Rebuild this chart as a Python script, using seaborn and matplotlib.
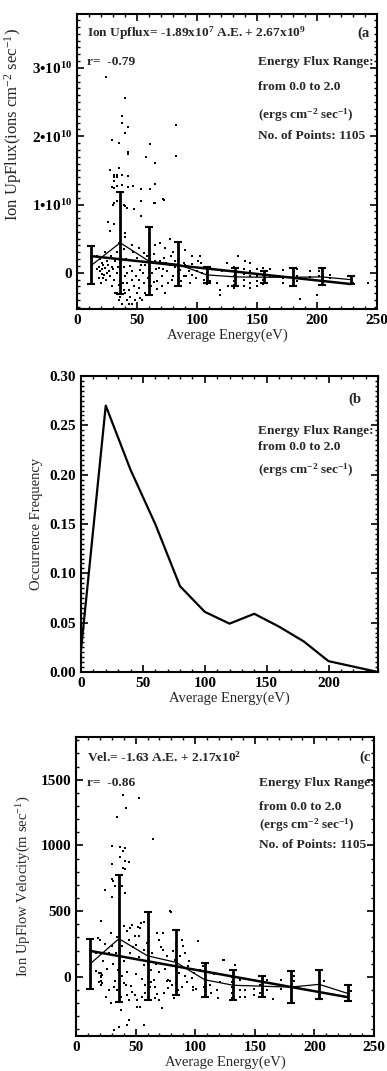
import matplotlib
matplotlib.use("Agg")
import matplotlib.pyplot as plt
import seaborn as sns
import numpy as np
from matplotlib.ticker import MultipleLocator

# ---------------- data ----------------
# (a) ion upflux, values in units of 1e10 ions cm^-2 s^-1
bin_energy = [12, 36, 60, 84, 108, 132, 156, 180, 204, 228]
flux_mean = [0.11, 0.44, 0.17, 0.125, -0.03, -0.06, -0.065, -0.065, -0.06, -0.10]
flux_err = [0.28, 0.75, 0.50, 0.325, 0.12, 0.13, 0.09, 0.13, 0.125, 0.06]
flux_slope = -1.89e7
flux_intercept = 2.67e9

flux_pts_energy = [
    24.4, 39.7, 37.2, 37.2, 42.2, 39.7, 82.8, 29.2, 35.0, 60.6, 42.2, 42.2, 57.2, 82.8,
    64.7, 35.0, 27.2, 31.1, 33.3, 37.2, 42.2, 31.0, 33.3, 31.1, 29.0, 31.1, 33.3, 37.2,
    42.2, 47.0, 53.5, 60.5, 64.7, 72.0, 53.0, 64.7, 31.1, 33.3, 39.7,
    30.0, 33.3, 38.9, 41.7, 47.2, 63.9, 72.8, 25.6, 27.8, 30.6, 39.7, 40.3, 53.6, 34.7,
    45.8, 51.4, 55.6, 59.7, 65.3, 69.4, 73.6, 77.8, 80.0, 90.3, 95.8, 102.8,
    16.7, 18.0, 19.4, 20.8, 22.2, 23.6, 25.0, 26.4, 27.8, 29.2, 30.6, 31.9, 33.3, 34.7,
    38.9, 40.3, 41.7, 43.1, 44.4, 45.8, 47.2, 48.6, 50.0, 51.4, 52.8, 54.2, 55.6, 56.9,
    62.5, 63.9, 65.3, 66.7, 68.1, 70.8, 72.2, 73.6, 75.0, 77.8, 79.2, 81.9, 86.1, 88.9,
    90.3, 93.1, 95.8, 97.2, 100.0, 103.3, 105.6, 109.7, 119.4, 119.4,
    36.1, 37.5, 41.7, 45.8, 48.6, 52.8, 33.3, 38.9,
    21.0, 21.0, 21.5, 22.0, 36.0, 36.0, 36.5, 37.0, 60.0, 60.0, 60.5, 84.0, 84.0, 84.5,
    108.0, 108.0, 108.0, 108.5, 108.5,
    124.7, 134.4, 140.0, 144.2,
    131, 131, 131, 131, 131, 131, 139, 139, 139, 139, 144, 144, 144, 144,
    150, 150, 150, 150, 155, 155, 155, 155, 161, 161, 172, 172, 172, 183, 183, 183,
    194, 194, 202, 202, 211, 211, 230, 230, 186, 200, 242.6, 126,
    17, 18, 19, 20, 23, 24, 25, 26, 28, 29, 30, 32, 33, 34, 35, 36, 38, 39, 40, 41,
    42, 43, 44, 46, 47, 49, 50, 52, 53, 55, 57, 58, 59, 61, 62, 64, 66, 67, 69, 71,
    72, 74, 76, 78, 80, 82, 85, 87, 89, 91, 92, 94, 96, 99, 101, 104, 111, 114, 117, 121,
]
flux_pts_value = [
    2.87, 2.56, 2.29, 2.20, 2.14, 2.05, 2.16, 1.94, 1.90, 1.88, 1.77, 1.74, 1.70, 1.71,
    1.61, 1.54, 1.50, 1.43, 1.43, 1.43, 1.42, 1.40, 1.41, 1.34, 1.26, 1.24, 1.27, 1.28,
    1.25, 1.27, 1.22, 1.22, 1.30, 1.08, 1.05, 1.02, 1.02, 1.05, 0.98,
    1.00, 1.05, 1.00, 0.95, 0.93, 1.02, 1.06, 0.75, 0.61, 0.71, 0.58, 0.53, 0.83, 0.44,
    0.41, 0.36, 0.29, 0.34, 0.41, 0.44, 0.36, 0.49, 0.31, 0.34, 0.24, 0.24,
    0.24, 0.09, 0.02, 0.14, -0.03, 0.07, 0.18, 0.02, -0.05, 0.09, -0.10, 0.17, 0.00, -0.18,
    0.09, -0.05, -0.15, -0.25, -0.35, 0.02, -0.20, 0.17, -0.30, -0.10, 0.04, -0.40, -0.15, 0.12,
    0.00, -0.13, 0.17, -0.23, 0.07, -0.05, 0.22, -0.30, 0.02, 0.12, -0.10, 0.17, 0.04, -0.05,
    0.12, 0.02, -0.03, 0.09, 0.02, 0.14, -0.10, 0.07, -0.25, -0.32,
    -0.35, -0.45, -0.40, -0.45, -0.40, -0.37, -0.30, -0.25,
    0.05, -0.02, -0.08, 0.11, 0.06, -0.12, 0.20, -0.28, 0.05, -0.20, 0.26, 0.02, -0.12, 0.18,
    0.05, -0.05, -0.12, 0.00, -0.16,
    0.14, 0.24, 0.17, 0.15,
    0.09, 0.02, -0.05, -0.12, -0.18, -0.22, 0.05, -0.02, -0.10, -0.20, 0.03, -0.05, -0.15, -0.22,
    0.06, -0.04, -0.12, -0.20, 0.07, -0.03, -0.10, -0.17, 0.05, -0.05, 0.04, -0.08, -0.15, 0.06, -0.05, -0.12,
    0.02, -0.06, 0.03, -0.04, -0.03, -0.08, -0.05, -0.15, -0.39, -0.32, -0.15, -0.20,
    0.05, -0.08, 0.20, -0.15, 0.30, -0.10, 0.00, 0.12, 0.25, -0.20, 0.05, -0.30, 0.30, 0.08, -0.40, 0.15, -0.15, 0.35, -0.30, 0.20,
    0.00, -0.45, 0.10, -0.10, 0.30, -0.05, 0.22, -0.22, 0.12, 0.00, -0.30, 0.25, -0.08, 0.10, -0.20, 0.28, 0.05, -0.12, 0.18, -0.20,
    0.05, 0.15, -0.15, 0.25, -0.05, 0.08, 0.20, -0.12, 0.15, -0.05, 0.10, -0.15, 0.13, -0.08, 0.18, 0.00, -0.12, 0.05, -0.15, 0.02,
]

# (b) occurrence frequency
occ_energy = [0, 20, 40, 60, 80, 100, 120, 140, 160, 180, 200, 220, 240]
occ_freq = [0.022, 0.270, 0.205, 0.150, 0.087, 0.061, 0.049, 0.059, 0.046, 0.031, 0.011, 0.0055, 0.0]

# (c) ion upflow velocity (m/s)
vel_mean = [100, 290, 160, 110, -22, -64, -71, -78, -57, -126]
vel_err = [191, 483, 334, 250, 130, 115, 79, 121, 108, 61]
vel_slope = -1.63
vel_intercept = 2.17e2

vel_pts_energy = [
    39.6, 53.2, 42.1, 34.6, 64.3, 30.5, 36.8, 41.5, 39.6, 36.8, 41.5, 44.3, 30.5, 39.6,
    41.5, 30.5, 31.0, 24.4, 32.4, 38.8, 41.5, 30.5, 80.0, 57.0, 52.0, 45.0,
    18.6, 19.9, 20.8, 29.1, 30.5, 33.2, 38.8, 40.2, 42.9, 44.3, 47.1, 49.3, 50.7, 52.6,
    54.0, 54.8, 56.8, 59.6, 60.9, 63.2, 65.1, 66.5, 67.9, 69.3, 72.6, 73.4, 76.2, 77.6,
    78.9, 83.1, 89.2, 90.0, 91.4, 94.2, 97.0, 98.3, 102.5, 106.6, 108.0, 113.6, 119.1, 123.3,
    16.6, 19.4, 20.8, 22.2, 27.7, 31.9, 34.6, 37.4, 38.8, 40.2, 41.6, 42.9, 44.3, 47.1,
    49.9, 51.2, 54.0, 55.4, 58.2, 62.3, 66.5, 69.3, 72.0, 76.2, 77.6, 80.3, 85.9, 88.6,
    91.4, 98.3, 56.8, 44.3, 42.9, 36.0, 31.9,
    21, 21, 21, 21, 22, 22,
    108, 108, 108, 108, 108, 108, 108, 107,
    84, 84, 84, 84, 84, 60, 60, 60, 60, 60,
    131, 131, 131, 131, 131, 131, 124, 133.5, 138, 138, 138, 142, 142, 149, 149, 149,
    154, 154, 154, 160, 160, 165, 172, 172, 183, 183, 193, 208, 229, 230.3,
    17, 19, 23, 24, 25, 26, 28, 29, 31, 33, 34, 35, 37, 38, 40, 43, 45, 46, 48, 50,
    51, 53, 55, 57, 58, 61, 63, 64, 67, 68, 70, 71, 74, 75, 79, 81, 82, 86, 87, 93,
    95, 99, 101, 104, 112, 116, 118, 121,
]
vel_pts_value = [
    1382, 1364, 1283, 1216, 1051, 995, 990, 982, 957, 914, 885, 873, 855, 830,
    822, 745, 728, 664, 690, 695, 639, 608, 490, 415, 380, 370,
    295, 282, 422, 333, 231, 181, 231, 384, 346, 282, 397, 313, 244, 308,
    372, 410, 206, 257, 130, 53, -23, -74, 333, 282, 333, 206, 155, -23,
    499, 130, 282, 231, 181, 79, -10, -74, 270, 79, -23, -125, -163, 130,
    41, 28, 3, -48, -99, -74, -99, -150, 3, -48, -61, -137, -176, -112,
    -137, -176, -226, -150, -61, -74, -163, -176, -239, -35, -86, -61, -99, -74,
    3, -99, -366, -328, -366, -379, -405,
    30, 0, -30, -60, 15, -45,
    100, 60, 20, -20, -60, -100, -140, -80,
    250, 150, 50, -50, -110, 200, 100, 0, -100, -150,
    50, 0, -40, -80, -120, -160, 130, 92, -23, -100, -150, -99, -150, -23, -90, -140,
    3, -60, -120, -23, -100, -170, -23, -90, 3, -35, -99, -35, -99, -104,
    180, -40, 120, 250, -150, 60, 180, -200, 100, -30, 300, 50, 200, -250, 120, 40, 180, -70, 230, 20,
    -230, 150, -20, 90, -120, 300, -40, 180, 100, -130, 40, 230, -120, 60, -30, 200, -160, 30, 160, -40,
    120, 30, -90, 50, -60, 20, -100, -40,
]

# ---------------- style ----------------
sns.set_theme(style="ticks")
plt.rcParams.update({
    "font.family": ["Liberation Serif", "DejaVu Serif"],
    "mathtext.fontset": "custom",
    "mathtext.rm": "Liberation Serif",
    "mathtext.it": "Liberation Serif:italic",
    "mathtext.bf": "Liberation Serif:bold",
    "mathtext.default": "regular",
    "axes.linewidth": 1.5,
    "axes.edgecolor": "black",
    "xtick.direction": "in",
    "ytick.direction": "in",
    "xtick.top": True,
    "ytick.right": True,
    "xtick.major.size": 5,
    "ytick.major.size": 5,
    "xtick.minor.size": 2.5,
    "ytick.minor.size": 2.5,
    "xtick.major.width": 1.2,
    "ytick.major.width": 1.2,
    "xtick.minor.width": 1.0,
    "ytick.minor.width": 1.0,
    "xtick.color": "black",
    "ytick.color": "black",
})

W, H = 387, 1071
fig = plt.figure(figsize=(W / 100, H / 100), dpi=100)


def add_axes(left, top, right, bottom):
    return fig.add_axes([left / W, 1 - bottom / H, (right - left) / W, (bottom - top) / H])


ax_a = add_axes(77, 14, 377, 309)
ax_b = add_axes(81, 376, 378, 672)
ax_c = add_axes(76, 737, 374, 1036)

TICK_FS = 11
LABEL_FS = 10.5
ANN_FS = 9.6


def style_axis(ax, xticks, xlabels, yticks, ylabels, xminor, yminor, ylabel, ylabel_x,
               ylabel_y=0.5, ylabel_fs=LABEL_FS):
    ax.set_xticks(xticks, xlabels, fontsize=TICK_FS, fontweight="bold")
    ax.set_yticks(yticks, ylabels, fontsize=TICK_FS, fontweight="bold")
    ax.xaxis.set_minor_locator(MultipleLocator(xminor))
    ax.yaxis.set_minor_locator(MultipleLocator(yminor))
    ax.tick_params(which="both", top=True, right=True, direction="in", pad=3.5)
    ax.set_xlabel("Average Energy(eV)", fontsize=LABEL_FS, labelpad=1)
    ax.set_ylabel(ylabel, fontsize=ylabel_fs)
    ax.yaxis.set_label_coords(ylabel_x, ylabel_y)
    for s in ax.spines.values():
        s.set_visible(True)
        s.set_linewidth(1.5)
        s.set_color("black")


def panel_with_fit(ax, pts_x, pts_y, mean, err, slope, intercept, scale):
    sns.scatterplot(x=pts_x, y=pts_y, ax=ax, color="black", marker="s", s=1.3,
                    linewidth=0, legend=False, zorder=2)
    sns.lineplot(x=bin_energy, y=mean, ax=ax, color="black", linewidth=0.9,
                 estimator=None, sort=False, zorder=3)
    ax.errorbar(bin_energy, mean, yerr=err, fmt="none", ecolor="black",
                elinewidth=2.0, capsize=3, capthick=1.5, zorder=4)
    fx = np.array([bin_energy[0], bin_energy[-1]], dtype=float)
    fy = (slope * fx + intercept) / scale
    sns.lineplot(x=fx, y=fy, ax=ax, color="black", linewidth=1.8,
                 estimator=None, sort=False, zorder=5)


# ---------------- panel (a) ----------------
panel_with_fit(ax_a, flux_pts_energy, flux_pts_value, flux_mean, flux_err,
               flux_slope, flux_intercept, 1e10)
ax_a.set_xlim(0, 250)
ax_a.set_ylim(-0.53, 3.79)
style_axis(ax_a, [0, 50, 100, 150, 200, 250], ["0", "50", "100", "150", "200", "250"],
           [0, 1, 2, 3], ["0", "1•10$^{10}$", "2•10$^{10}$", "3•10$^{10}$"],
           10, 0.1, "Ion UpFlux(ions cm$^{-2}$ sec$^{-1}$)", -0.175,
           ylabel_y=0.625, ylabel_fs=12)

ta = ax_a.transAxes
ax_a.text(0.033, 0.936, "Ion Upflux= -1.89x10$^{7}$ A.E. + 2.67x10$^{9}$", transform=ta,
          fontsize=ANN_FS, fontweight="bold", va="center", ha="left")
ax_a.text(0.933, 0.936, "(a", transform=ta, fontsize=ANN_FS + 1, fontweight="bold",
          va="center", ha="left")
ax_a.text(0.033, 0.837, "r=  -0.79", transform=ta, fontsize=ANN_FS, fontweight="bold",
          va="center", ha="left")
for txt, yy in [("Energy Flux Range:", 0.837), ("from 0.0 to 2.0", 0.753),
                ("(ergs cm$^{-2}$ sec$^{-1}$)", 0.658), ("No. of Points: 1105", 0.586)]:
    ax_a.text(0.603, yy, txt, transform=ta, fontsize=ANN_FS, fontweight="bold",
              va="center", ha="left")

# ---------------- panel (b) ----------------
sns.lineplot(x=occ_energy, y=occ_freq, ax=ax_b, color="black", linewidth=1.6,
             estimator=None, sort=False)
ax_b.set_xlim(0, 240)
ax_b.set_ylim(0, 0.30)
style_axis(ax_b, [0, 50, 100, 150, 200], ["0", "50", "100", "150", "200"],
           [0, 0.05, 0.10, 0.15, 0.20, 0.25, 0.30],
           ["0.00", "0.05", "0.10", "0.15", "0.20", "0.25", "0.30"],
           10, 0.005, "Occurrence Frequency", -0.128)
tb = ax_b.transAxes
ax_b.text(0.899, 0.922, "(b", transform=tb, fontsize=ANN_FS + 1, fontweight="bold",
          va="center", ha="left")
for txt, yy in [("Energy Flux Range:", 0.814), ("from 0.0 to 2.0", 0.760),
                ("(ergs cm$^{-2}$ sec$^{-1}$)", 0.682)]:
    ax_b.text(0.596, yy, txt, transform=tb, fontsize=ANN_FS, fontweight="bold",
              va="center", ha="left")

# ---------------- panel (c) ----------------
panel_with_fit(ax_c, vel_pts_energy, vel_pts_value, vel_mean, vel_err,
               vel_slope, vel_intercept, 1.0)
ax_c.set_xlim(0, 250)
ax_c.set_ylim(-450, 1825)
style_axis(ax_c, [0, 50, 100, 150, 200, 250], ["0", "50", "100", "150", "200", "250"],
           [0, 500, 1000, 1500], ["0", "500", "1000", "1500"],
           10, 100, "Ion UpFlow Velocity(m sec$^{-1}$)", -0.144)
tc = ax_c.transAxes
ax_c.text(0.037, 0.933, "Vel.= -1.63 A.E. + 2.17x10$^{2}$", transform=tc,
          fontsize=ANN_FS, fontweight="bold", va="center", ha="left")
ax_c.text(0.95, 0.933, "(c", transform=tc, fontsize=ANN_FS + 1, fontweight="bold",
          va="center", ha="left")
ax_c.text(0.037, 0.846, "r=  -0.86", transform=tc, fontsize=ANN_FS, fontweight="bold",
          va="center", ha="left")
for txt, yy in [("Energy Flux Range:", 0.846), ("from 0.0 to 2.0", 0.766),
                ("(ergs cm$^{-2}$ sec$^{-1}$)", 0.706), ("No. of Points: 1105", 0.639)]:
    ax_c.text(0.614, yy, txt, transform=tc, fontsize=ANN_FS, fontweight="bold",
              va="center", ha="left")

fig.savefig("out.png", dpi=100, facecolor="white")
